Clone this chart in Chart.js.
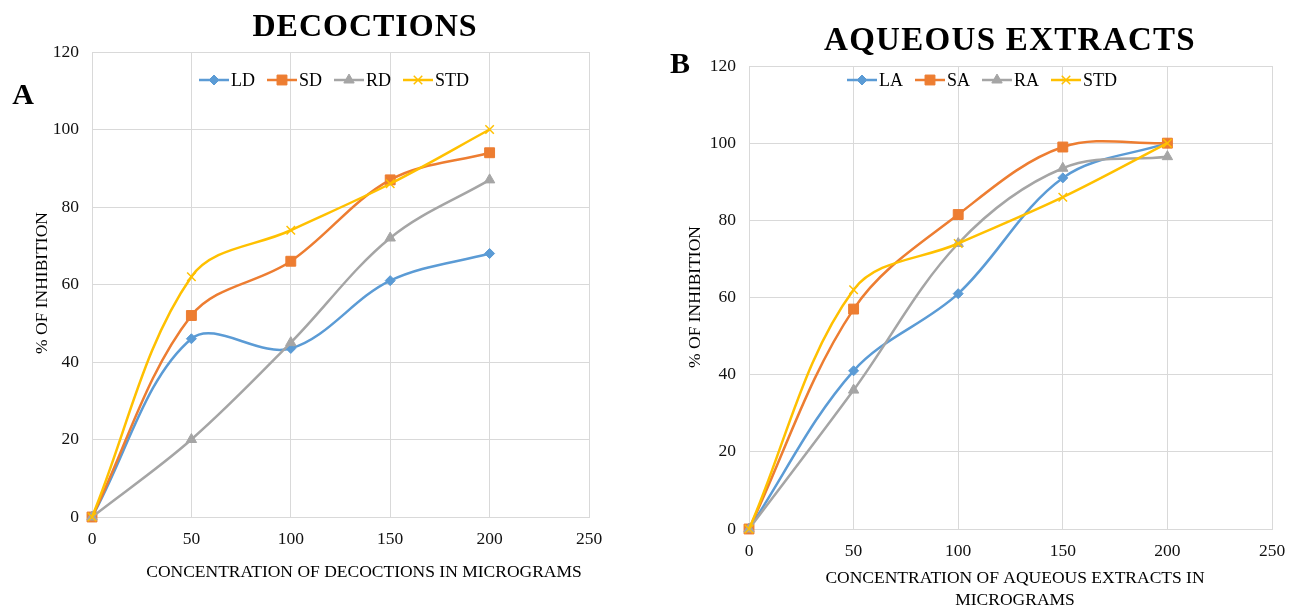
<!DOCTYPE html>
<html>
<head>
<meta charset="utf-8">
<script src="https://cdn.jsdelivr.net/npm/chart.js@4.4.1/dist/chart.umd.min.js"></script>
<style>
  body { margin: 0; background: #fff; }
  #wrapA { position: absolute; left: 0; top: 0; width: 640px; height: 608px; }
  #wrapB { position: absolute; left: 640px; top: 0; width: 658px; height: 608px; }
</style>
</head>
<body>
<div id="wrapA"><canvas id="chartA" width="640" height="608"></canvas></div>
<div id="wrapB"><canvas id="chartB" width="658" height="608"></canvas></div>
<script>
// concentrations (micrograms)
const concentrations = [0, 50, 100, 150, 200];
const xTicks = [0, 50, 100, 150, 200, 250];
const yTicks = [0, 20, 40, 60, 80, 100, 120];

// A - decoctions
const decoctionNames = ['LD', 'SD', 'RD', 'STD'];
const ldValues = [0, 46, 43.5, 61, 68];
const sdValues = [0, 52, 66, 87, 94];
const rdValues = [0, 20, 45, 72, 87];
const stdValues = [0, 62, 74, 86, 100];

// B - aqueous extracts
const aqueousNames = ['LA', 'SA', 'RA', 'STD'];
const laValues = [0, 41, 61, 91, 100];
const saValues = [0, 57, 81.5, 99, 100];
const raValues = [0, 36, 74, 93.5, 96.5];
const stdValuesB = [0, 62, 74, 86, 100];

const colors = ['#5B9BD5', '#ED7D31', '#A5A5A5', '#FFC000'];
const markers = [
  { style: 'rectRot', radius: 5 },
  { style: 'rect', radius: 7 },
  { style: 'triangle', radius: 6 },
  { style: 'crossRot', radius: 6 }
];
const serif = '"Liberation Serif", "Times New Roman", serif';
const gridColor = '#d9d9d9';

function makeDatasets(names, series) {
  return names.map((name, i) => ({
    label: name,
    data: concentrations.map((c, j) => ({ x: c, y: series[i][j] })),
    borderColor: colors[i],
    backgroundColor: colors[i],
    borderWidth: 2.5,
    pointStyle: markers[i].style,
    pointRadius: markers[i].radius,
    pointBorderWidth: markers[i].style === 'crossRot' ? 1.5 : 1,
    tension: 0.35,
    clip: false,
    order: names.length - i
  }));
}

// draws the titles, panel letter and the Excel-like legend
const panelText = {
  id: 'panelText',
  afterDraw(chart, args, opts) {
    const ctx = chart.ctx;
    ctx.save();
    ctx.fillStyle = '#000';
    ctx.textAlign = 'center';
    ctx.textBaseline = 'middle';

    ctx.font = 'bold ' + opts.titleSize + 'px ' + serif;
    ctx.letterSpacing = opts.titleSpacing + 'px';
    ctx.fillText(opts.title, opts.titleX, opts.titleY);
    ctx.letterSpacing = '0px';

    ctx.font = 'bold 30px ' + serif;
    ctx.fillText(opts.letter, opts.letterX, opts.letterY);

    ctx.font = '17.5px ' + serif;
    opts.xTitle.forEach((line, i) => ctx.fillText(line, opts.xTitleX, opts.xTitleY + i * 22));

    ctx.save();
    ctx.translate(opts.yTitleX, opts.yTitleY);
    ctx.rotate(-Math.PI / 2);
    ctx.fillText(opts.yTitle, 0, 0);
    ctx.restore();

    // legend
    let x = opts.legendX;
    const y = opts.legendY;
    ctx.textAlign = 'left';
    ctx.font = '18px ' + serif;
    chart.data.datasets.forEach((ds, i) => {
      ctx.strokeStyle = ds.borderColor;
      ctx.lineWidth = 2.5;
      ctx.beginPath();
      ctx.moveTo(x, y);
      ctx.lineTo(x + 30, y);
      ctx.stroke();
      ctx.fillStyle = ds.backgroundColor;
      ctx.lineWidth = ds.pointBorderWidth;
      Chart.helpers.drawPoint(ctx, {
        pointStyle: ds.pointStyle, radius: ds.pointRadius, rotation: 0, borderWidth: ds.pointBorderWidth
      }, x + 15, y);
      ctx.fillStyle = '#000';
      ctx.fillText(ds.label, x + 32, y + 1);
      x += 32 + ctx.measureText(ds.label).width + 12;
    });
    ctx.restore();
  }
};

function makeChart(canvasId, names, series, pad, yWidth, xHeight, text) {
  return new Chart(document.getElementById(canvasId), {
    type: 'line',
    data: { datasets: makeDatasets(names, series) },
    plugins: [panelText],
    options: {
      responsive: false,
      animation: false,
      layout: { padding: pad },
      plugins: {
        legend: { display: false },
        tooltip: { enabled: false },
        panelText: text
      },
      scales: {
        x: {
          type: 'linear',
          min: 0,
          max: 250,
          afterBuildTicks: s => { s.ticks = xTicks.map(v => ({ value: v })); },
          afterFit: s => { s.height = xHeight; },
          grid: { color: gridColor, drawTicks: false },
          border: { color: gridColor },
          ticks: { color: '#111', padding: 12, font: { family: serif, size: 17.5 } }
        },
        y: {
          min: 0,
          max: 120,
          afterBuildTicks: s => { s.ticks = yTicks.map(v => ({ value: v })); },
          afterFit: s => { s.width = yWidth; },
          grid: { color: gridColor, drawTicks: false },
          border: { color: gridColor },
          ticks: { color: '#111', padding: 13, font: { family: serif, size: 17.5 } }
        }
      }
    }
  });
}

makeChart('chartA', decoctionNames, [ldValues, sdValues, rdValues, stdValues],
  { top: 52, right: 51, bottom: 0, left: 0 }, 92, 91, {
    title: 'DECOCTIONS', titleSize: 32, titleSpacing: 1, titleX: 365, titleY: 28,
    letter: 'A', letterX: 23, letterY: 96,
    xTitle: ['CONCENTRATION OF DECOCTIONS IN MICROGRAMS'], xTitleX: 364, xTitleY: 572,
    yTitle: '% OF INHIBITION', yTitleX: 42, yTitleY: 283,
    legendX: 199, legendY: 80
  });

makeChart('chartB', aqueousNames, [laValues, saValues, raValues, stdValuesB],
  { top: 66, right: 26, bottom: 0, left: 0 }, 109, 79, {
    title: 'AQUEOUS EXTRACTS', titleSize: 33, titleSpacing: 1.3, titleX: 370, titleY: 41,
    letter: 'B', letterX: 40, letterY: 65,
    xTitle: ['CONCENTRATION OF AQUEOUS EXTRACTS IN', 'MICROGRAMS'], xTitleX: 375, xTitleY: 578,
    yTitle: '% OF INHIBITION', yTitleX: 55, yTitleY: 297,
    legendX: 207, legendY: 80
  });
</script>
</body>
</html>
